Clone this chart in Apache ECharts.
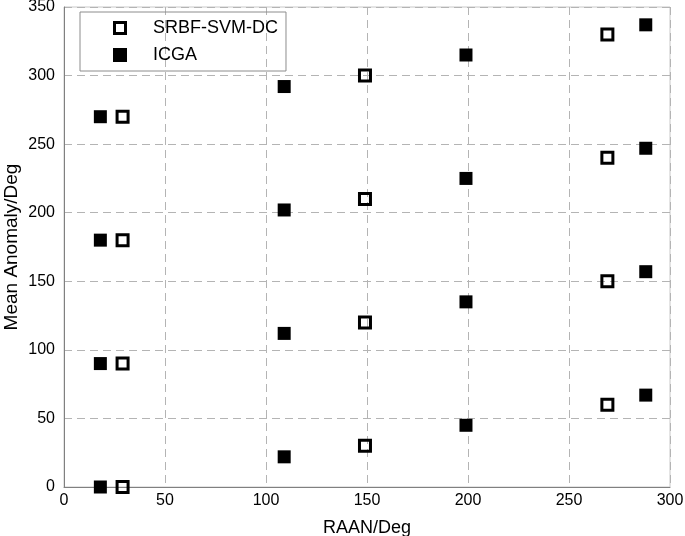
<!DOCTYPE html>
<html><head><meta charset="utf-8">
<script src="https://cdn.jsdelivr.net/npm/echarts@6/dist/echarts.min.js"></script>
<style>html,body{margin:0;padding:0;background:#fff}#c{width:685px;height:536px}</style>
</head><body><div id="c"></div>
<script>
const xTicks = [0, 50, 100, 150, 200, 250, 300];
const yTicks = [0, 50, 100, 150, 200, 250, 300, 350];
const srbfX = [29, 29, 29, 29, 149, 149, 149, 149, 269, 269, 269, 269];
const srbfY = [0, 90, 180, 270, 30, 120, 210, 300, 60, 150, 240, 330];
const icgaX = [18, 18, 18, 18, 109, 109, 109, 109, 199, 199, 199, 199, 288, 288, 288, 288];
const icgaY = [0, 90, 180, 270, 22, 112, 202, 292, 45, 135, 225, 315, 67, 157, 247, 337];

const font = 'Liberation Sans, Arial, sans-serif';
const ring = 'path://M0,0H14V14H0Z M3,3V11H11V3Z';
const chart = echarts.init(document.getElementById('c'));
const gridLine = {show: true, lineStyle: {color: '#b4b4b4', type: [8, 5], width: 1}};
chart.setOption({
  animation: false,
  grid: {left: 64, right: 15, top: 7, bottom: 49, outerBoundsMode: 'none', containLabel: false,
    show: true, borderColor: '#c8c8c8', borderWidth: 1, backgroundColor: 'transparent'},
  legend: {
    orient: 'vertical', left: 80, top: 12,
    padding: [7, 8, 7, 33],
    itemWidth: 14, itemHeight: 14, itemGap: 9,
    borderColor: '#8c8c8c', borderWidth: 1,
    textStyle: {fontFamily: font, fontSize: 18, color: '#000', padding: [0, 0, 0, 21]},
    data: [
      {name: 'SRBF-SVM-DC', icon: ring, itemStyle: {color: '#000', borderWidth: 0}},
      {name: 'ICGA', icon: 'rect', itemStyle: {color: '#000', borderWidth: 0}}
    ]
  },
  xAxis: {
    type: 'value', min: 0, max: 300, interval: 50,
    name: 'RAAN/Deg', nameLocation: 'middle', nameGap: 32, nameMoveOverlap: false,
    nameTextStyle: {fontFamily: font, fontSize: 18, color: '#000'},
    axisLine: {show: true, lineStyle: {color: '#808080'}},
    axisTick: {show: false},
    axisLabel: {fontFamily: font, fontSize: 16, color: '#000', margin: 6,
      formatter: v => xTicks.includes(v) ? String(v) : ''},
    splitLine: gridLine
  },
  yAxis: {
    type: 'value', min: 0, max: 350, interval: 50,
    name: 'Mean Anomaly/Deg', nameLocation: 'middle', nameGap: 43, nameMoveOverlap: false,
    nameTextStyle: {fontFamily: font, fontSize: 19, color: '#000'},
    axisLine: {show: true, lineStyle: {color: '#808080'}},
    axisTick: {show: false},
    axisLabel: {fontFamily: font, fontSize: 16, color: '#000', margin: 9,
      formatter: v => yTicks.includes(v) ? String(v) : ''},
    splitLine: gridLine
  },
  series: [
    {
      name: 'SRBF-SVM-DC', type: 'scatter', symbol: ring, symbolSize: 14,
      itemStyle: {color: '#000', opacity: 1},
      data: srbfX.map((x, i) => [x, srbfY[i]]), z: 3
    },
    {
      name: 'ICGA', type: 'scatter', symbol: 'rect', symbolSize: 13,
      itemStyle: {color: '#000', opacity: 1},
      data: icgaX.map((x, i) => [x, icgaY[i]]), z: 3
    }
  ]
});
</script></body></html>
